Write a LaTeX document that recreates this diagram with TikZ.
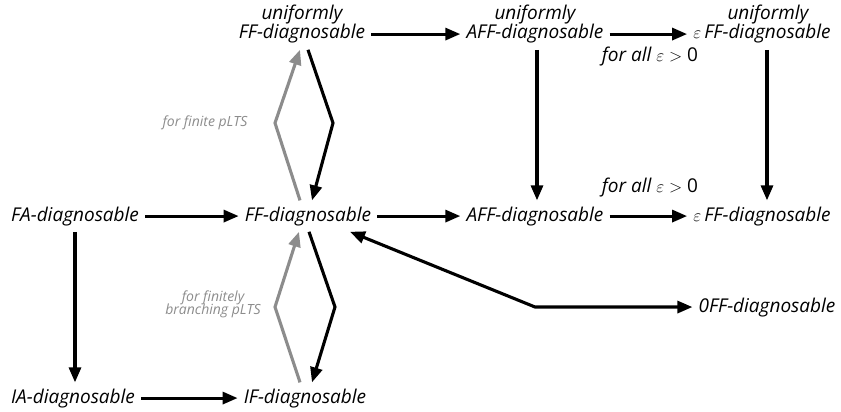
\documentclass[tikz,border=0pt]{standalone}
\usepackage{fontspec}
\setmainfont{Open Sans}
\usetikzlibrary{arrows.meta}
\begin{document}
\begin{tikzpicture}[x=1pt,y=-1pt,
  every node/.style={font=\fontsize{19}{20}\selectfont\itshape},
  st/.style={inner sep=6pt, anchor=base},
  note/.style={font=\fontsize{14}{15}\selectfont\itshape, text=black!45, align=center},
  ulab/.style={label distance=-9pt},
  tip/.tip={Triangle[length=15pt,width=12pt]},
  imp/.style={line width=3.1pt, -tip},
  cond/.style={imp, draw=black!45},
  both/.style={line width=3.1pt, tip-tip}]
\useasboundingbox (0,0) rectangle (841,412);

% top row: uniform notions
\node[st, label={[ulab]above:uniformly}] (uFF) at (302,39) {FF-diagnosable};
\node[st, label={[ulab]above:uniformly}] (uAFF) at (535,39) {AFF-diagnosable};
\node[st, label={[ulab, xshift=6pt]above:uniformly}] (ueFF) at (762,39) {$\varepsilon$\,FF-diagnosable};

% middle row
\node[st] (FA) at (75,221) {FA-diagnosable};
\node[st] (FF) at (308,221) {FF-diagnosable};
\node[st] (AFF) at (535,221) {AFF-diagnosable};
\node[st] (eFF) at (762,221) {$\varepsilon$\,FF-diagnosable};
\node[st] (zFF) at (767,312) {0FF-diagnosable};

% bottom row
\node[st] (IA) at (73,403) {IA-diagnosable};
\node[st] (IF) at (305,403) {IF-diagnosable};

% side conditions
\node (all1) at (650,57) {for all $\varepsilon >$ \textup{0}};
\node (all2) at (650,188) {for all $\varepsilon >$ \textup{0}};
\node[note] (fin) at (205,123) {for finite pLTS};
\node[note] (fbr) at (213,304) {for finitely\\[-2pt] branching pLTS};

% bend points of the two-way implications
\coordinate (gUp) at (275,123);
\coordinate (bUp) at (333,123);
\coordinate (gDn) at (275,307);
\coordinate (bDn) at (335,307);
\coordinate (elbow) at (535,307);

% implications
\draw[imp] (uFF) -- (uAFF);
\draw[imp] (uAFF) -- (ueFF);
\draw[imp] (FA) -- (FF);
\draw[imp] (FF) -- (AFF);
\draw[imp] (AFF) -- (eFF);
\draw[imp] (IA) -- (IF);
\draw[imp] (FA.south) -- (IA.north -| FA.south);
\draw[imp] ([xshift=2pt]uAFF.south) -- ([xshift=2pt]AFF.north);
\draw[imp] ([xshift=5pt]ueFF.south) -- ([xshift=5pt]eFF.north);

\draw[imp] ([xshift=6pt]uFF.south) -- (bUp) -- ([xshift=4pt]FF.north);
\draw[cond] ([xshift=-8pt]FF.north) -- (gUp) -- ([xshift=-2pt]uFF.south);
\draw[imp] ([xshift=1pt]FF.south) -- (bDn) -- ([xshift=7pt]IF.north);
\draw[cond] ([xshift=-5pt]IF.north) -- (gDn) -- ([xshift=-9pt]FF.south);

\draw[both] ([xshift=42pt]FF.south) -- (elbow) -- (zFF);
\end{tikzpicture}
\end{document}
